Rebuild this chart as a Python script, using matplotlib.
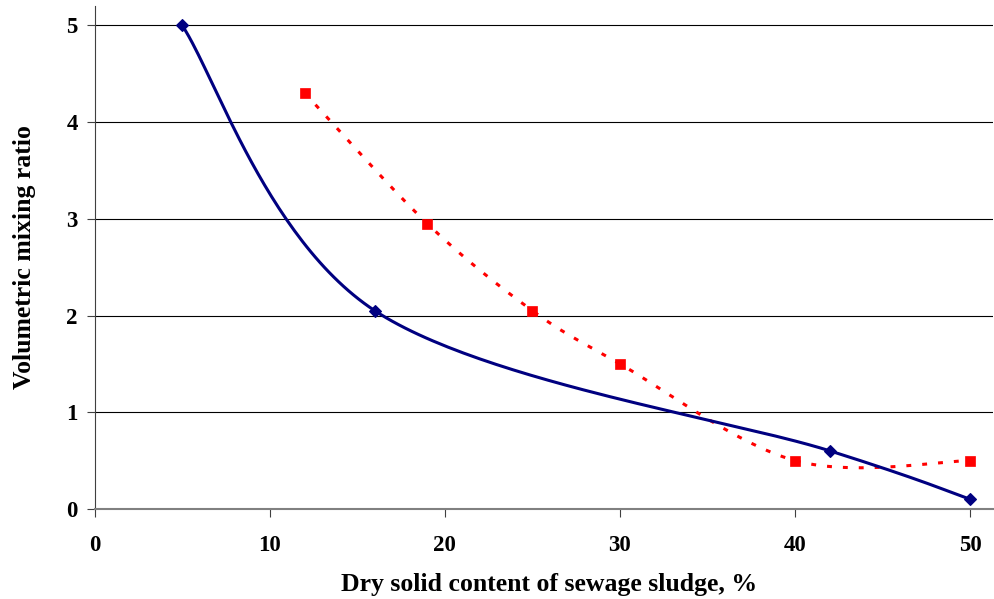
import numpy as np
import matplotlib.pyplot as plt

# Data
dry_solid_a = [5, 16, 42, 50]
ratio_a = [5.0, 2.05, 0.6, 0.1]

dry_solid_b = [12, 19, 25, 30, 40, 50]
ratio_b = [4.3, 2.95, 2.05, 1.5, 0.5, 0.5]

x_ticks = [0, 10, 20, 30, 40, 50]
y_ticks = [0, 1, 2, 3, 4, 5]


def smooth(xs, ys, n=60):
    # Excel-like smoothed line: cubic Bezier through the points
    p = np.column_stack([xs, ys]).astype(float)
    p = np.vstack([p[0], p, p[-1]])
    out = []
    t = np.linspace(0, 1, n)[:, None]
    for i in range(1, len(p) - 2):
        p0, p1 = p[i], p[i + 1]
        c1 = p0 + (p[i + 1] - p[i - 1]) / 6
        c2 = p1 - (p[i + 2] - p[i]) / 6
        seg = ((1 - t) ** 3) * p0 + 3 * ((1 - t) ** 2) * t * c1 \
            + 3 * (1 - t) * t ** 2 * c2 + t ** 3 * p1
        out.append(seg)
    out = np.vstack(out)
    return out[:, 0], out[:, 1]


plt.rcParams['font.family'] = 'Liberation Serif'
plt.rcParams['font.weight'] = 'bold'

fig = plt.figure(figsize=(9.95, 5.99), dpi=100)
ax = fig.add_axes([0.095, 0.1503, 0.903, 0.8397])

sx, sy = smooth(dry_solid_b, ratio_b)
ax.plot(sx, sy, color='#ff0000', lw=2.2, ls=(0, (1.6, 3.6)), zorder=3)
ax.plot(dry_solid_b, ratio_b, ls='none', marker='s', ms=7.8,
        color='#ff0000', mew=0.5, zorder=4)

sx, sy = smooth(dry_solid_a, ratio_a)
ax.plot(sx, sy, color='#000080', lw=2.2, zorder=5)
ax.plot(dry_solid_a, ratio_a, ls='none', marker='D', ms=6.2,
        color='#000080', mew=0.8, zorder=6)

ax.set_xlim(0, 51.3)
ax.set_ylim(0, 5.2)
ax.set_xticks(x_ticks)
ax.set_yticks(y_ticks)
ax.yaxis.grid(True, color='black', lw=0.8)
ax.set_axisbelow(True)

for s in ['top', 'right']:
    ax.spines[s].set_visible(False)
ax.spines['left'].set_color('#404040')
ax.spines['left'].set_linewidth(0.8)
ax.spines['bottom'].set_color('#808080')
ax.spines['bottom'].set_linewidth(1.5)

ax.tick_params(axis='x', direction='out', length=6, width=0.8, color='#404040',
               labelsize=16.5, pad=13)
ax.tick_params(axis='y', direction='out', length=6, width=0.8, color='#404040',
               labelsize=16.5, pad=6)

ax.set_xlabel('Dry solid content of sewage sludge, %', fontsize=18.5, fontweight='bold')
ax.set_ylabel('Volumetric mixing ratio', fontsize=18.5, fontweight='bold')
ax.xaxis.set_label_coords(0.506, -0.128)
ax.yaxis.set_label_coords(-0.065, 0.5)

fig.savefig('out.png', dpi=100)
